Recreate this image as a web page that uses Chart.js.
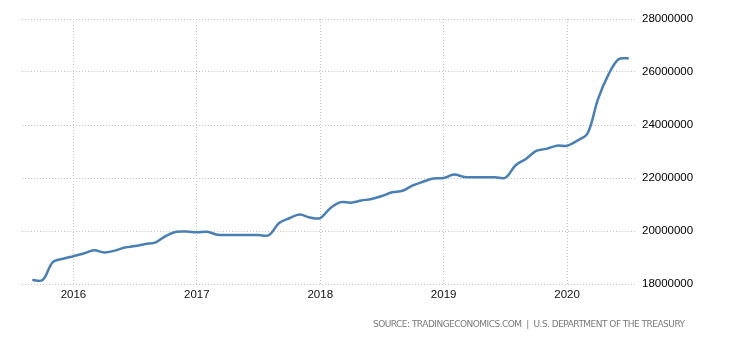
<!DOCTYPE html>
<html>
<head>
<meta charset="utf-8">
<script src="https://cdn.jsdelivr.net/npm/chart.js@4/dist/chart.umd.min.js"></script>
<style>
  html, body { margin: 0; padding: 0; background: #fff; }
</style>
</head>
<body>
<canvas id="debt-chart" width="730" height="340"></canvas>
<script>
// Monthly government debt (USD million)
const months = [
  '2015-09', '2015-10', '2015-11', '2015-12',
  '2016-01', '2016-02', '2016-03', '2016-04', '2016-05', '2016-06',
  '2016-07', '2016-08', '2016-09', '2016-10', '2016-11', '2016-12',
  '2017-01', '2017-02', '2017-03', '2017-04', '2017-05', '2017-06',
  '2017-07', '2017-08', '2017-09', '2017-10', '2017-11', '2017-12',
  '2018-01', '2018-02', '2018-03', '2018-04', '2018-05', '2018-06',
  '2018-07', '2018-08', '2018-09', '2018-10', '2018-11', '2018-12',
  '2019-01', '2019-02', '2019-03', '2019-04', '2019-05', '2019-06',
  '2019-07', '2019-08', '2019-09', '2019-10', '2019-11', '2019-12',
  '2020-01', '2020-02', '2020-03', '2020-04', '2020-05', '2020-06',
  '2020-07'
];
const debt = [
  18150000, 18150000, 18830000, 18950000,
  19050000, 19150000, 19270000, 19190000, 19260000, 19380000,
  19430000, 19510000, 19570000, 19820000, 19970000, 19980000,
  19950000, 19970000, 19860000, 19850000, 19850000, 19850000,
  19850000, 19840000, 20300000, 20480000, 20620000, 20510000,
  20490000, 20870000, 21090000, 21070000, 21150000, 21210000,
  21320000, 21460000, 21520000, 21720000, 21860000, 21980000,
  22000000, 22130000, 22040000, 22030000, 22030000, 22030000,
  22010000, 22480000, 22720000, 23020000, 23100000, 23220000,
  23220000, 23410000, 23690000, 24970000, 25880000, 26480000,
  26520000
];
const yearLabels = ['2016', '2017', '2018', '2019', '2020'];
const debtTicks = [18000000, 20000000, 22000000, 24000000, 26000000, 28000000];
const sourceText = 'SOURCE: TRADINGECONOMICS.COM  |  U.S. DEPARTMENT OF THE TREASURY';

// months counted from Jan 2016
function monthIndex(ym) {
  const [y, m] = ym.split('-').map(Number);
  return (y - 2016) * 12 + (m - 1);
}
const yearTicks = yearLabels.map(y => monthIndex(y + '-01'));
const points = months.map((m, i) => ({ x: monthIndex(m), y: debt[i] }));

// source line under the plot, stretched to its usual width
const sourcePlugin = {
  id: 'source',
  afterDraw(chart) {
    const ctx = chart.ctx;
    ctx.save();
    ctx.font = '9px "DejaVu Sans"';
    ctx.fillStyle = '#7a7a7a';
    ctx.textBaseline = 'middle';
    const w = ctx.measureText(sourceText).width;
    const target = 312;
    ctx.letterSpacing = ((target - w) / (sourceText.length - 1)).toFixed(2) + 'px';
    ctx.textAlign = 'left';
    ctx.fillText(sourceText, 373, 325);
    ctx.restore();
  }
};

const ctx = document.getElementById('debt-chart').getContext('2d');
new Chart(ctx, {
  type: 'line',
  data: {
    datasets: [{
      data: points,
      borderColor: '#4a7fb3',
      borderWidth: 2.5,
      pointRadius: 0,
      tension: 0.35,
      fill: false
    }]
  },
  options: {
    responsive: false,
    animation: false,
    devicePixelRatio: 1,
    layout: { padding: { top: 19, left: 22, right: 0, bottom: 0 } },
    plugins: {
      legend: { display: false },
      tooltip: { enabled: false }
    },
    scales: {
      x: {
        type: 'linear',
        min: -5,
        max: 54.8,
        afterBuildTicks: axis => { axis.ticks = yearTicks.map(v => ({ value: v })); },
        afterFit: axis => { axis.height = 56; },
        grid: { color: '#c4c4c4', drawTicks: false },
        border: { display: false, dash: [1, 2] },
        ticks: {
          autoSkip: false,
          maxRotation: 0,
          padding: 4,
          color: '#111',
          font: { family: 'Liberation Sans', size: 11.5 },
          callback: (v, i) => yearLabels[i]
        }
      },
      y: {
        position: 'right',
        min: 18000000,
        max: 28000000,
        afterBuildTicks: axis => { axis.ticks = debtTicks.map(v => ({ value: v })); },
        afterFit: axis => { axis.width = 93; },
        grid: { color: '#c4c4c4', drawTicks: false },
        border: { display: false, dash: [1, 2] },
        ticks: {
          padding: 5,
          color: '#000',
          font: { family: 'Liberation Sans', size: 11.5 },
          callback: v => String(v)
        }
      }
    }
  },
  plugins: [sourcePlugin]
});
</script>
</body>
</html>
